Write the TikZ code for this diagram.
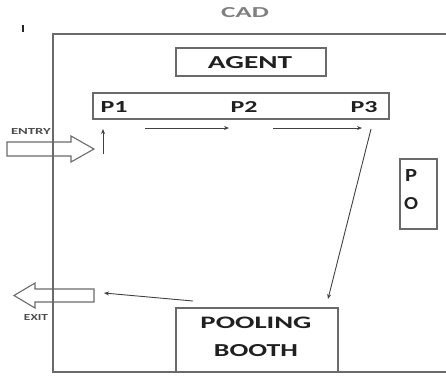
\documentclass[tikz,border=0pt]{standalone}
\usepackage{fontspec}
\setmainfont{Carlito}
\usepackage{graphicx}
\usetikzlibrary{arrows.meta}
\definecolor{linegray}{HTML}{6A6A6A}
\definecolor{textdark}{HTML}{202020}
\definecolor{cadgray}{HTML}{808080}
\newcommand{\fittext}[3]{\resizebox{#1pt}{#2pt}{\textbf{#3}}}
\tikzset{
  box/.style={draw=linegray, line width=1.5pt, inner sep=0pt},
  lbl/.style={inner sep=0pt, text=textdark},
  wall/.style={draw=linegray, line width=1.6pt},
  flow/.style={draw=textdark!85, line width=0.9pt, -{Stealth[length=5pt,width=4pt]}},
  bigarrow/.style={draw=linegray, line width=1.1pt, fill=white, line join=miter}
}
\begin{document}
\begin{tikzpicture}[x=1pt,y=-1pt]
\useasboundingbox (0,0) rectangle (446,376);
% walls
\draw[wall] (446,34) -- (53,34) -- (53,372) -- (446,372);
% tick mark
\draw[black!85, line width=2.6pt] (23,25) -- (23,32);
% title
\node[lbl, text=cadgray] (cad) at (245,13) {\fittext{48}{10}{CAD}};
% boxes
\node[box, minimum width=150pt, minimum height=28pt] (agent) at (251,62) {};
\node[lbl] (agentt) at (250,63) {\fittext{84}{12}{AGENT}};
\node[box, minimum width=296pt, minimum height=26pt] (pbox) at (241,106) {};
\node[lbl] (p1) at (114,107) {\fittext{27}{11}{P1}};
\node[lbl] (p2) at (244,107) {\fittext{27}{11}{P2}};
\node[lbl] (p3) at (364,107) {\fittext{27}{11}{P3}};
\node[box, minimum width=37pt, minimum height=70pt] (po) at (418.5,194) {};
\node[lbl] (pl) at (411,175) {\fittext{12}{12}{P}};
\node[lbl] (ol) at (411,203.5) {\fittext{14}{12}{O}};
\node[box, minimum width=162pt, minimum height=64pt] (booth) at (257,340) {};
\node[lbl] (pooling) at (256,323) {\fittext{111}{11.5}{POOLING}};
\node[lbl] (boothl) at (256,350.5) {\fittext{84}{12}{BOOTH}};
% entry / exit arrows
\draw[bigarrow] (7,142) -- (71,142) -- (71,136) -- (94,149) -- (71,162) -- (71,156) -- (7,156) -- cycle;
\draw[linegray, line width=1.6pt] (53,140) -- (53,158);
\node[lbl, text=textdark!80] (entry) at (31,131) {\fittext{40}{6}{ENTRY}};
\draw[bigarrow] (94,289) -- (35,289) -- (35,283) -- (14,295.5) -- (35,308) -- (35,302) -- (94,302) -- cycle;
\draw[linegray, line width=1.6pt] (53,287) -- (53,304);
\node[lbl, text=textdark!80] (exit) at (36,317.5) {\fittext{24}{6}{EXIT}};
% flow arrows
\coordinate (a1s) at (103,154);
\coordinate (a1e) at (103,129);
\coordinate (a2s) at (145,128);
\coordinate (a2e) at (229,128);
\coordinate (a3s) at (273,128);
\coordinate (a3e) at (362,128);
\coordinate (a4s) at (371,129);
\coordinate (a4e) at (328,299);
\coordinate (a5s) at (193,301);
\coordinate (a5e) at (104,293);
\draw[flow] (a1s) -- (a1e);
\draw[flow] (a2s) -- (a2e);
\draw[flow] (a3s) -- (a3e);
\draw[flow] (a4s) -- (a4e);
\draw[flow] (a5s) -- (a5e);
\end{tikzpicture}
\end{document}
